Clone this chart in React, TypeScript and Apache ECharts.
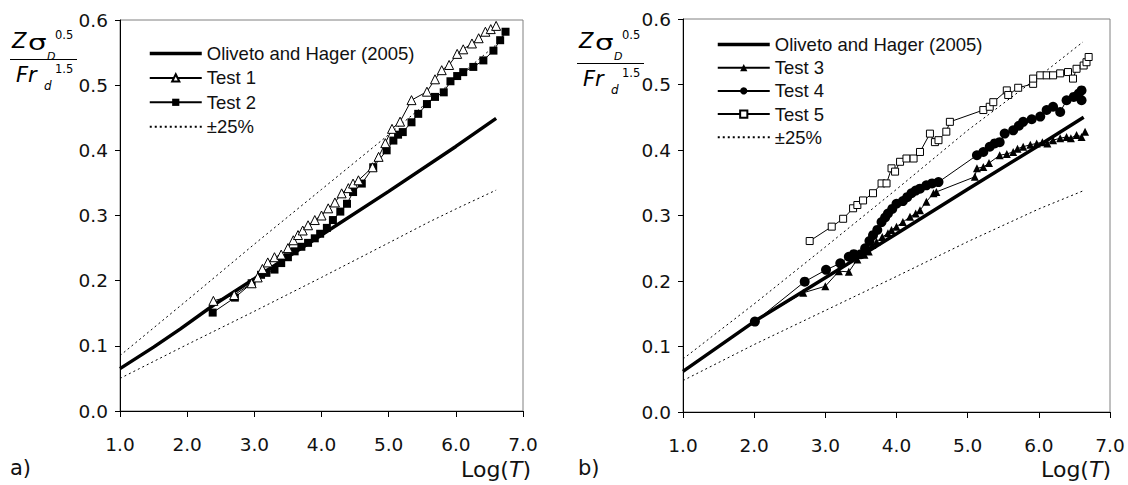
import React, { useEffect, useRef } from 'react';
import * as echarts from 'echarts';

const FONT = '"Liberation Sans", Arial, sans-serif';
const VFONT = '"DejaVu Sans", Verdana, sans-serif';

const legendA = ['Oliveto and Hager (2005)', 'Test 1', 'Test 2', '±25%'];
const legendB = ['Oliveto and Hager (2005)', 'Test 3', 'Test 4', 'Test 5', '±25%'];
const OLIVETO = 'Oliveto and Hager (2005)';
const BAND = '±25%';

const olivetoA = [[1.0, 0.065], [1.5, 0.098], [1.9, 0.126], [2.4, 0.163], [3.0, 0.203], [4.0, 0.27], [5.0, 0.337], [6.0, 0.406], [6.6, 0.449]];
const upperA = [[1.0, 0.085], [2.0, 0.17], [3.0, 0.256], [4.0, 0.34], [5.0, 0.424], [6.0, 0.51], [6.6, 0.562]];
const lowerA = [[1.0, 0.05], [2.0, 0.102], [3.0, 0.153], [4.0, 0.205], [5.0, 0.258], [5.6, 0.29], [6.0, 0.31], [6.6, 0.339]];

const test1 = [[2.39, 0.169], [2.7, 0.178], [2.96, 0.196], [3.05, 0.205], [3.12, 0.218], [3.2, 0.228], [3.3, 0.236], [3.4, 0.24], [3.5, 0.25], [3.58, 0.262], [3.65, 0.27], [3.72, 0.277], [3.8, 0.285], [3.9, 0.293], [4.0, 0.3], [4.1, 0.311], [4.2, 0.32], [4.3, 0.334], [4.4, 0.342], [4.47, 0.349], [4.55, 0.354], [4.76, 0.374], [4.85, 0.39], [4.95, 0.411], [5.05, 0.433], [5.17, 0.444], [5.34, 0.477], [5.57, 0.49], [5.69, 0.509], [5.79, 0.523], [5.9, 0.531], [6.02, 0.548], [6.11, 0.555], [6.24, 0.564], [6.34, 0.572], [6.44, 0.582], [6.52, 0.586], [6.6, 0.591]];
const test2 = [[2.38, 0.151], [2.71, 0.174], [2.96, 0.196], [3.1, 0.209], [3.18, 0.212], [3.3, 0.217], [3.4, 0.227], [3.5, 0.236], [3.6, 0.245], [3.7, 0.252], [3.8, 0.258], [3.9, 0.265], [3.98, 0.272], [4.08, 0.281], [4.17, 0.293], [4.28, 0.306], [4.38, 0.318], [4.47, 0.336], [4.6, 0.349], [4.77, 0.374], [4.97, 0.4], [5.07, 0.415], [5.14, 0.424], [5.21, 0.428], [5.34, 0.443], [5.44, 0.456], [5.57, 0.471], [5.69, 0.482], [5.82, 0.489], [5.92, 0.506], [6.02, 0.514], [6.11, 0.52], [6.26, 0.528], [6.41, 0.538], [6.56, 0.553], [6.66, 0.569], [6.74, 0.582]];

const olivetoB = [[1.0, 0.062], [2.0, 0.138], [3.0, 0.205], [4.0, 0.272], [5.0, 0.34], [6.0, 0.407], [6.63, 0.45]];
const upperB = [[1.0, 0.081], [2.0, 0.165], [3.0, 0.252], [4.0, 0.34], [5.0, 0.43], [6.0, 0.512], [6.62, 0.565]];
const lowerB = [[1.0, 0.048], [2.0, 0.103], [3.0, 0.155], [4.0, 0.207], [5.0, 0.26], [6.0, 0.31], [6.63, 0.338]];

const test3 = [[2.0, 0.138], [2.69, 0.182], [3.0, 0.192], [3.19, 0.215], [3.33, 0.214], [3.45, 0.233], [3.55, 0.24], [3.61, 0.245], [3.66, 0.255], [3.72, 0.26], [3.8, 0.267], [3.88, 0.273], [3.93, 0.278], [4.0, 0.283], [4.09, 0.29], [4.19, 0.298], [4.27, 0.303], [4.33, 0.308], [4.42, 0.321], [4.52, 0.334], [4.56, 0.336], [5.1, 0.359], [5.13, 0.372], [5.22, 0.374], [5.3, 0.38], [5.45, 0.392], [5.55, 0.394], [5.64, 0.397], [5.7, 0.402], [5.78, 0.405], [5.88, 0.408], [5.97, 0.41], [6.05, 0.412], [6.12, 0.41], [6.2, 0.415], [6.3, 0.418], [6.39, 0.42], [6.45, 0.418], [6.53, 0.423], [6.6, 0.42], [6.65, 0.428]];
const test4 = [[2.01, 0.138], [2.71, 0.199], [3.01, 0.217], [3.21, 0.227], [3.33, 0.237], [3.4, 0.241], [3.5, 0.241], [3.56, 0.25], [3.62, 0.261], [3.67, 0.27], [3.73, 0.278], [3.79, 0.29], [3.84, 0.297], [3.88, 0.303], [3.94, 0.31], [4.0, 0.318], [4.09, 0.322], [4.15, 0.328], [4.21, 0.334], [4.27, 0.338], [4.33, 0.341], [4.42, 0.346], [4.5, 0.349], [4.59, 0.351], [5.13, 0.392], [5.22, 0.397], [5.31, 0.405], [5.38, 0.41], [5.45, 0.412], [5.52, 0.425], [5.64, 0.43], [5.72, 0.437], [5.78, 0.443], [5.9, 0.447], [6.02, 0.451], [6.11, 0.461], [6.2, 0.466], [6.3, 0.458], [6.39, 0.476], [6.49, 0.481], [6.56, 0.486], [6.6, 0.476], [6.6, 0.491]];
const test5 = [[2.78, 0.261], [3.09, 0.283], [3.25, 0.295], [3.39, 0.311], [3.45, 0.316], [3.53, 0.323], [3.67, 0.334], [3.79, 0.349], [3.86, 0.349], [3.93, 0.372], [3.98, 0.367], [4.05, 0.382], [4.14, 0.387], [4.24, 0.387], [4.33, 0.397], [4.47, 0.425], [4.54, 0.412], [4.59, 0.415], [4.7, 0.428], [4.75, 0.443], [5.22, 0.461], [5.31, 0.466], [5.36, 0.473], [5.55, 0.491], [5.57, 0.484], [5.71, 0.495], [5.92, 0.501], [5.92, 0.509], [6.02, 0.514], [6.11, 0.514], [6.2, 0.514], [6.3, 0.517], [6.41, 0.519], [6.48, 0.509], [6.53, 0.524], [6.63, 0.529], [6.67, 0.534], [6.7, 0.542]];

const xTicks = [1, 2, 3, 4, 5, 6, 7];
const yTicks = [0, 0.1, 0.2, 0.3, 0.4, 0.5, 0.6];

function xAxisFor(gridIndex: number) {
  return {
    type: 'value', gridIndex, min: xTicks[0], max: xTicks[xTicks.length - 1], interval: 1,
    axisLine: { show: true, lineStyle: { color: '#000', width: 1 } },
    axisTick: { show: true, length: 6, lineStyle: { color: '#000' } },
    axisLabel: { formatter: (v: number) => v.toFixed(1), fontSize: 18.5, fontFamily: VFONT, color: '#111', margin: 24 },
    splitLine: { show: false },
  };
}
function yAxisFor(gridIndex: number) {
  return {
    type: 'value', gridIndex, min: yTicks[0], max: yTicks[yTicks.length - 1], interval: 0.1,
    axisLine: { show: true, lineStyle: { color: '#000', width: 1 } },
    axisTick: { show: true, length: 5, lineStyle: { color: '#000' } },
    axisLabel: { formatter: (v: number) => v.toFixed(1), fontSize: 18.5, fontFamily: VFONT, color: '#111', margin: 12 },
    splitLine: { show: false },
  };
}

const dotted = { color: '#000', width: 1, type: [2, 3] as number[] };

function lineSeries(name: string, data: number[][], idx: number, extra: any) {
  return { type: 'line', name, data, xAxisIndex: idx, yAxisIndex: idx, ...extra };
}

function legendData(names: string[]) {
  return names.map((n) => {
    if (n === OLIVETO) return { name: n, itemStyle: { opacity: 0 }, lineStyle: { width: 3.5, color: '#000' } };
    if (n === BAND) return { name: n, itemStyle: { opacity: 0 } };
    return { name: n };
  });
}

function fraction(ox: number, dy: number) {
  const t = (text: string, x: number, y: number, size: number, italic = false, sx = 1) => ({
    type: 'text', silent: true, x: ox + x, y, scaleX: sx,
    style: { text, x: 0, y: 0, fontSize: size, fontFamily: VFONT, fontStyle: italic ? 'italic' : 'normal', fill: '#000', align: 'left', verticalAlign: 'middle' },
  });
  return [
    t('Z', 12, 40.5, 21, true),
    t('σ', 28, 43, 21, false, 1.4),
    t('D', 47, 56.5, 11, true),
    t('0.5', 55, 35, 11.5),
    { type: 'line', silent: true, shape: { x1: ox + 10, y1: 59.5 + dy, x2: ox + 77, y2: 59.5 + dy }, style: { stroke: '#000', lineWidth: 1.2 } },
    t('Fr', 16, 74.5 + dy, 21, true),
    t('d', 44, 85.5 + dy, 12, true),
    t('1.5', 55, 68.5 + dy, 11.5),
  ];
}

export default function App() {
  const ref = useRef<HTMLDivElement>(null);
  useEffect(() => {
    document.body.style.margin = '0';
    const chart = echarts.init(ref.current!, null, { renderer: 'svg' });
    const open = { color: '#fff', borderColor: '#000', borderWidth: 1 };
    const thin = { color: '#000', width: 1 };
    const black = { color: '#000' };
    const logT = (x: number) => ({
      type: 'text', silent: true,
      style: { text: '{n|Log(}{i|T}{n|)}', x, y: 469, align: 'right', verticalAlign: 'middle', rich: { n: { fontSize: 22, fontFamily: VFONT, fill: '#111' }, i: { fontSize: 22, fontFamily: VFONT, fontStyle: 'italic', fill: '#111' } } },
    });
    const option: any = {
      animation: false,
      backgroundColor: '#fff',
      textStyle: { fontFamily: FONT },
      grid: [
        { left: 120, top: 20, width: 403, height: 391, show: true, borderColor: '#808080', borderWidth: 1 },
        { left: 683, top: 19, width: 427, height: 393, show: true, borderColor: '#808080', borderWidth: 1 },
      ],
      xAxis: [xAxisFor(0), xAxisFor(1)],
      yAxis: [yAxisFor(0), yAxisFor(1)],
      legend: [
        { data: legendData(legendA), orient: 'vertical', left: 148, top: 44, padding: 0, itemWidth: 52, itemHeight: 9, itemGap: 5.4, selectedMode: false, textStyle: { fontSize: 18.5, fontFamily: FONT, color: '#111' } },
        { data: legendData(legendB), orient: 'vertical', left: 716, top: 35, padding: 0, itemWidth: 52, itemHeight: 9, itemGap: 4.2, selectedMode: false, textStyle: { fontSize: 18.5, fontFamily: FONT, color: '#111' } },
      ],
      series: [
        lineSeries(BAND, upperA, 0, { symbol: 'none', itemStyle: black, lineStyle: dotted }),
        lineSeries(BAND, lowerA, 0, { symbol: 'none', itemStyle: black, lineStyle: dotted }),
        lineSeries(OLIVETO, olivetoA, 0, { symbol: 'none', itemStyle: black, lineStyle: { color: '#000', width: 3.5 } }),
        lineSeries('Test 2', test2, 0, { symbol: 'rect', symbolSize: 8, itemStyle: black, lineStyle: thin }),
        lineSeries('Test 1', test1, 0, { symbol: 'triangle', symbolSize: 9, itemStyle: open, lineStyle: thin }),
        lineSeries(BAND, upperB, 1, { symbol: 'none', itemStyle: black, lineStyle: dotted }),
        lineSeries(BAND, lowerB, 1, { symbol: 'none', itemStyle: black, lineStyle: dotted }),
        lineSeries(OLIVETO, olivetoB, 1, { symbol: 'none', itemStyle: black, lineStyle: { color: '#000', width: 3.5 } }),
        lineSeries('Test 3', test3, 1, { symbol: 'triangle', symbolSize: 8, itemStyle: black, lineStyle: thin }),
        lineSeries('Test 4', test4, 1, { symbol: 'circle', symbolSize: 10, itemStyle: black, lineStyle: thin }),
        lineSeries('Test 5', test5, 1, { symbol: 'rect', symbolSize: 7, itemStyle: open, lineStyle: thin }),
      ],
      graphic: [
        ...fraction(0, 0),
        ...fraction(567, 4),
        logT(531),
        logT(1111),
        { type: 'text', silent: true, style: { text: 'a)', x: 10, y: 468, fontSize: 21, fontFamily: VFONT, fill: '#111', verticalAlign: 'middle' } },
        { type: 'text', silent: true, style: { text: 'b)', x: 578, y: 468, fontSize: 21, fontFamily: VFONT, fill: '#111', verticalAlign: 'middle' } },
      ],
    };
    chart.setOption(option);
    return () => chart.dispose();
  }, []);
  return <div ref={ref} style={{ width: 1128, height: 485 }} />;
}
